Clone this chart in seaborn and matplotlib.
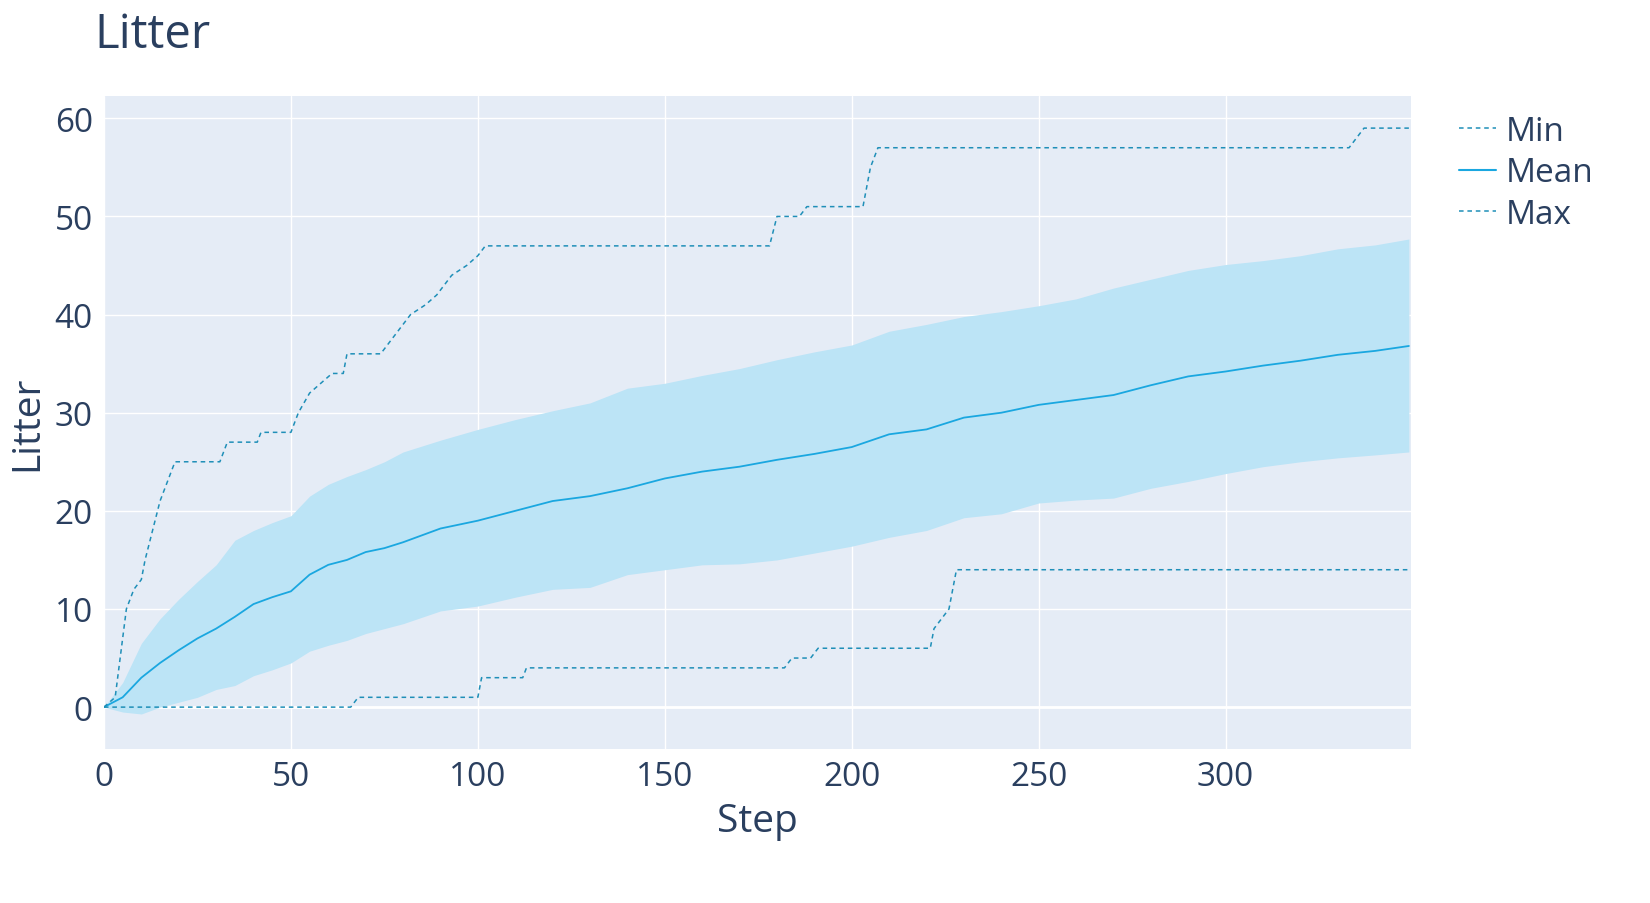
import numpy as np
import pandas as pd
import matplotlib
matplotlib.use("Agg")
import matplotlib.pyplot as plt
import seaborn as sns
from matplotlib.lines import Line2D

sns.set_style("darkgrid", {"axes.facecolor": "#E5ECF6", "grid.color": "white"})
plt.rcParams["font.family"] = ["Open Sans", "DejaVu Sans"]
plt.rcParams["axes.unicode_minus"] = False

TEXT = "#2a3f5f"
MEAN_C = "#1aa7e0"
BAND_C = "#bce4f6"
DASH_C = "#1f8fb8"

# step / value pairs for the max and min lines
max_steps = [0, 3, 4, 6, 8, 10, 11, 13, 15, 17, 19, 31, 33, 41, 42, 50, 52, 55, 58, 61, 64, 65, 74,
             78, 82, 86, 89, 93, 97, 100, 102, 178, 180, 186, 188, 203, 205, 207, 333, 335, 337, 349]
max_vals = [0, 1, 4, 10, 12, 13, 15, 18, 21, 23, 25, 25, 27, 27, 28, 28, 30, 32, 33, 34, 34, 36, 36,
            38, 40, 41, 42, 44, 45, 46, 47, 47, 50, 50, 51, 51, 55, 57, 57, 58, 59, 59]
min_steps = [0, 66, 68, 100, 101, 112, 113, 182, 184, 189, 191, 221, 222, 224, 226, 228, 349]
min_vals = [0, 0, 1, 1, 3, 3, 4, 4, 5, 5, 6, 6, 8, 9, 10, 14, 14]

# mean and band
steps = [0, 5, 10, 15, 20, 25, 30, 35, 40, 45, 50, 55, 60, 65, 70, 75, 80, 90, 100, 110, 120,
         130, 140, 150, 160, 170, 180, 190, 200, 210, 220, 230, 240, 250, 260, 270, 280, 290,
         300, 310, 320, 330, 340, 349]
mean = [0, 1, 3, 4.5, 5.8, 7, 8, 9.2, 10.5, 11.2, 11.8, 13.5, 14.5, 15, 15.8, 16.2, 16.8, 18.2,
        19, 20, 21, 21.5, 22.3, 23.3, 24, 24.5, 25.2, 25.8, 26.5, 27.8, 28.3, 29.5, 30, 30.8,
        31.3, 31.8, 32.8, 33.7, 34.2, 34.8, 35.3, 35.9, 36.3, 36.8]
lower = [0, -0.5, -0.7, 0, 0.5, 1, 1.8, 2.2, 3.2, 3.8, 4.5, 5.7, 6.3, 6.8, 7.5, 8, 8.5, 9.8,
         10.3, 11.2, 12, 12.2, 13.5, 14, 14.5, 14.6, 15, 15.7, 16.4, 17.3, 18, 19.3, 19.7, 20.8,
         21.1, 21.3, 22.3, 23, 23.8, 24.5, 25, 25.4, 25.7, 26]
upper = [0, 2.5, 6.5, 9, 11, 12.8, 14.5, 17, 18, 18.8, 19.5, 21.5, 22.7, 23.5, 24.2, 25, 26,
         27.2, 28.3, 29.3, 30.2, 31, 32.5, 33, 33.8, 34.5, 35.4, 36.2, 36.9, 38.3, 39, 39.8,
         40.3, 40.9, 41.6, 42.7, 43.6, 44.5, 45.1, 45.5, 46, 46.7, 47.1, 47.7]

df = pd.DataFrame({"Step": steps, "Mean": mean})

fig = plt.figure(figsize=(16.5, 9.04), dpi=100)
ax = fig.add_axes([0.063, 0.170, 0.792, 0.723])

ax.fill_between(steps, lower, upper, color=BAND_C, lw=0, zorder=2)
sns.lineplot(data=df, x="Step", y="Mean", color=MEAN_C, lw=1.3, ax=ax, zorder=3)
ax.plot(max_steps, max_vals, color=DASH_C, lw=1.1, ls=(0, (3, 2.5)), zorder=3)
ax.plot(min_steps, min_vals, color=DASH_C, lw=1.1, ls=(0, (3, 2.5)), zorder=3)

ax.set_xlim(0, 349.5)
ax.set_ylim(-4.3, 62.3)
ax.set_xticks(np.arange(0, 301, 50))
ax.set_yticks(np.arange(0, 61, 10))
ax.grid(color="white", lw=1)
ax.axhline(0, color="white", lw=2, zorder=1)
for s in ax.spines.values():
    s.set_visible(False)
ax.tick_params(colors=TEXT, labelsize=24, length=0, pad=8)
ax.set_xlabel("Step", color=TEXT, fontsize=28, labelpad=6)
ax.set_ylabel("Litter", color=TEXT, fontsize=28, labelpad=6)

fig.text(0.057, 0.935, "Litter", color=TEXT, fontsize=34, va="bottom")

handles = [
    Line2D([], [], color=DASH_C, lw=1.1, ls=(0, (3, 2.5))),
    Line2D([], [], color=MEAN_C, lw=1.5),
    Line2D([], [], color=DASH_C, lw=1.1, ls=(0, (3, 2.5))),
]
fig.legend(handles, ["Min", "Mean", "Max"], loc="upper left", bbox_to_anchor=(0.866, 0.905),
           frameon=False, fontsize=24, labelcolor=TEXT, handlelength=1.1, handletextpad=0.3,
           labelspacing=0.25)

fig.savefig("out.png", dpi=100)
